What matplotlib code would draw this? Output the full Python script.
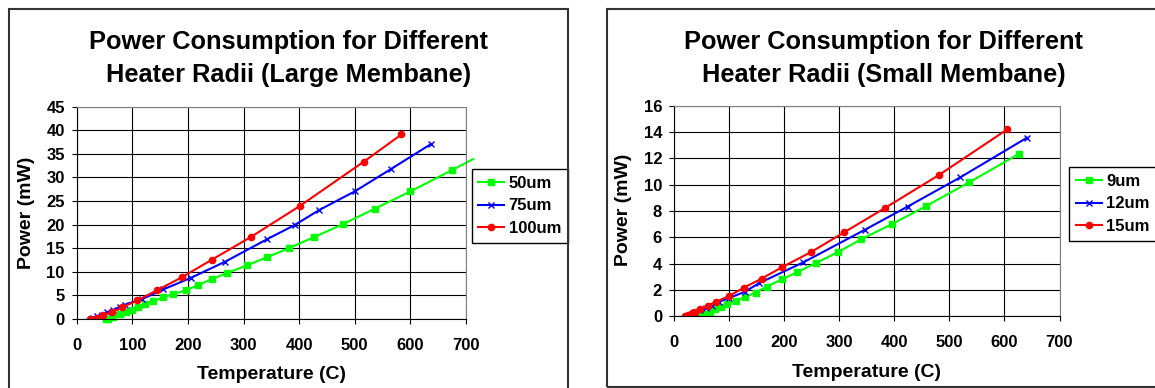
import numpy as np
import matplotlib
matplotlib.use("Agg")
import matplotlib.pyplot as plt
from matplotlib.patches import Rectangle

plt.rcParams['font.family'] = ['Liberation Sans', 'DejaVu Sans']
plt.rcParams['font.weight'] = 'bold'

# ---- data: large membrane (heater radius in um) ----
large_labels = ["50um", "75um", "100um"]
large_50_T = [52, 57, 66, 77, 88, 99, 111, 123, 138, 156, 174, 196, 219, 243, 271,
              306, 342, 382, 427, 478, 536, 600, 675, 713]
large_50_P = [0.0, 0.05, 0.49, 1.0, 1.48, 1.97, 2.6, 3.15, 3.81, 4.59, 5.30, 6.07,
              7.20, 8.47, 9.75, 11.37, 13.07, 15.04, 17.37, 20.06, 23.38, 27.05,
              31.57, 33.9]
large_75_T = [25, 30, 36, 45, 54, 66, 78, 87, 118, 156, 206, 267, 343, 392, 436,
              500, 565, 637]
large_75_P = [0.1, 0.3, 0.55, 0.95, 1.4, 1.95, 2.6, 3.05, 4.24, 6.29, 8.76, 12.15,
              16.95, 19.92, 23.09, 27.05, 31.78, 37.08]
large_100_T = [24, 36, 48, 63, 82, 109, 144, 189, 243, 313, 401, 516, 584]
large_100_P = [0.1, 0.28, 0.75, 1.45, 2.45, 3.95, 6.07, 8.83, 12.57, 17.37, 23.94,
               33.33, 39.12]

# ---- data: small membrane ----
small_labels = ["9um", "12um", "15um"]
small_9_T = [47, 56, 65, 74, 85, 97, 112, 129, 148, 168, 196, 223, 257, 297, 340,
             396, 458, 536, 626]
small_9_P = [0.0, 0.2, 0.35, 0.52, 0.73, 0.93, 1.17, 1.45, 1.8, 2.25, 2.81, 3.34,
             4.03, 4.86, 5.85, 7.01, 8.38, 10.18, 12.33]
small_12_T = [25, 32, 38, 48, 59, 69, 82, 99, 129, 154, 235, 346, 424, 520, 641]
small_12_P = [0.0, 0.1, 0.3, 0.48, 0.61, 0.78, 1.11, 1.37, 1.87, 2.51, 4.10, 6.56,
              8.33, 10.56, 13.57]
small_15_T = [20, 26, 32, 38, 47, 61, 77, 100, 127, 159, 197, 248, 309, 384, 481, 605]
small_15_P = [0.0, 0.10, 0.23, 0.33, 0.53, 0.81, 1.11, 1.54, 2.18, 2.86, 3.75, 4.86,
              6.38, 8.25, 10.73, 14.2]

x_ticks = [0, 100, 200, 300, 400, 500, 600, 700]
large_y_ticks = [0, 5, 10, 15, 20, 25, 30, 35, 40, 45]
small_y_ticks = [0, 2, 4, 6, 8, 10, 12, 14, 16]

GREEN, BLUE, RED = "#00FF00", "#0000FF", "#FF0000"

W, H = 1155, 388
fig = plt.figure(figsize=(W / 100, H / 100), dpi=100)


def fx(px):
    return px / W


def fy(py):
    return 1 - py / H


def make_axes(x0, x1, ytop, ybot):
    return fig.add_axes([fx(x0), fy(ybot), fx(x1) - fx(x0), fy(ytop) - fy(ybot)])


def style(ax, yticks):
    ax.set_xlim(x_ticks[0], x_ticks[-1])
    ax.set_ylim(yticks[0], yticks[-1])
    ax.set_xticks(x_ticks)
    ax.set_yticks(yticks)
    ax.grid(True, color="black", lw=0.8)
    ax.set_axisbelow(True)
    for s in ("top", "right"):
        ax.spines[s].set_color("#808080")
        ax.spines[s].set_linewidth(0.8)
    for s in ("left", "bottom"):
        ax.spines[s].set_color("black")
        ax.spines[s].set_linewidth(0.8)
    ax.tick_params(axis="both", direction="out", length=3.6, width=0.8,
                   labelsize=12)
    ax.tick_params(axis="x", pad=10)
    ax.tick_params(axis="y", pad=5)


def draw_series(ax, T, P, color, marker, ms, **kw):
    ax.plot(T, P, color=color, lw=1.5, marker=marker, ms=ms,
            markeredgecolor=color, markerfacecolor=color,
            markeredgewidth=1.0, **kw)


def legend(ax, left, top):
    leg = ax.legend(loc="upper left", bbox_to_anchor=(fx(left), fy(top)),
                    bbox_transform=fig.transFigure, fontsize=12, numpoints=1,
                    fancybox=False, framealpha=1, edgecolor="black",
                    borderaxespad=0, borderpad=0.4, labelspacing=0.45,
                    handlelength=1.56, handletextpad=0.26)
    leg.get_frame().set_linewidth(1.0)
    return leg


# chart borders
fig.patches.append(Rectangle((fx(8.5), fy(400)), fx(568.3) - fx(8.5), fy(9) - fy(400),
                             transform=fig.transFigure, fill=False,
                             edgecolor="#333333", lw=1.5))
fig.patches.append(Rectangle((fx(606.7), fy(387)), fx(1175) - fx(606.7), fy(9) - fy(387),
                             transform=fig.transFigure, fill=False,
                             edgecolor="#333333", lw=1.5))

# ---- left: large membrane ----
ax1 = make_axes(76.7, 466.0, 106.7, 319.0)
style(ax1, large_y_ticks)
draw_series(ax1, large_50_T, large_50_P, GREEN, "s", 4.4, label=large_labels[0],
            clip_on=False, markevery=slice(0, len(large_50_T) - 1))
draw_series(ax1, large_75_T, large_75_P, BLUE, "x", 5, label=large_labels[1])
draw_series(ax1, large_100_T, large_100_P, RED, "o", 4.5, label=large_labels[2])
legend(ax1, 471.7, 169.3)

fig.text(fx(288.5), fy(30), "Power Consumption for Different\nHeater Radii (Large Membane)",
         ha="center", va="top", fontsize=18.3, fontweight="bold", linespacing=1.45)
fig.text(fx(26.5), fy(213), "Power (mW)", rotation=90, ha="center", va="center",
         fontsize=14, fontweight="bold")
fig.text(fx(271.3), fy(374.5), "Temperature (C)", ha="center", va="center",
         fontsize=14, fontweight="bold")

# ---- right: small membrane ----
ax2 = make_axes(674.0, 1059.5, 105.7, 316.3)
style(ax2, small_y_ticks)
draw_series(ax2, small_9_T, small_9_P, GREEN, "s", 4.4, label=small_labels[0])
draw_series(ax2, small_12_T, small_12_P, BLUE, "x", 5, label=small_labels[1])
draw_series(ax2, small_15_T, small_15_P, RED, "o", 4.5, label=small_labels[2])
legend(ax2, 1069.3, 167.3)

fig.text(fx(884), fy(30), "Power Consumption for Different\nHeater Radii (Small Membane)",
         ha="center", va="top", fontsize=18.3, fontweight="bold", linespacing=1.45)
fig.text(fx(623.7), fy(210), "Power (mW)", rotation=90, ha="center", va="center",
         fontsize=14, fontweight="bold")
fig.text(fx(867), fy(372.5), "Temperature (C)", ha="center", va="center",
         fontsize=14, fontweight="bold")

fig.savefig("out.png", dpi=100)
